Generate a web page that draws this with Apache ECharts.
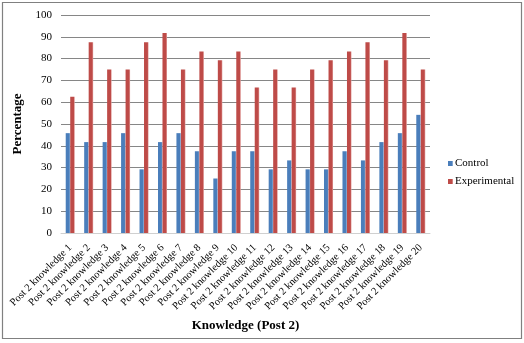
<!DOCTYPE html>
<html>
<head>
<meta charset="utf-8">
<script src="https://cdn.jsdelivr.net/npm/echarts@6/dist/echarts.min.js"></script>
<style>
  html, body { margin: 0; padding: 0; background: #fff; }
  #chart { width: 524px; height: 343px; }
</style>
</head>
<body>
<div id="chart"></div>
<script>
const categories = [
  'Post 2 knowledge 1', 'Post 2 knowledge 2', 'Post 2 knowledge 3', 'Post 2 knowledge 4',
  'Post 2 knowledge 5', 'Post 2 knowledge 6', 'Post 2 knowledge 7', 'Post 2 knowledge 8',
  'Post 2 knowledge 9', 'Post 2 knowledge 10', 'Post 2 knowledge 11', 'Post 2 knowledge 12',
  'Post 2 knowledge 13', 'Post 2 knowledge 14', 'Post 2 knowledge 15', 'Post 2 knowledge 16',
  'Post 2 knowledge 17', 'Post 2 knowledge 18', 'Post 2 knowledge 19', 'Post 2 knowledge 20'
];
const control = [45.8, 41.7, 41.7, 45.8, 29.2, 41.7, 45.8, 37.5, 25.0, 37.5,
                 37.5, 29.2, 33.3, 29.2, 29.2, 37.5, 33.3, 41.7, 45.8, 54.2];
const experimental = [62.5, 87.5, 75.0, 75.0, 87.5, 91.7, 75.0, 83.3, 79.2, 83.3,
                      66.7, 75.0, 66.7, 75.0, 79.2, 83.3, 87.5, 79.2, 91.7, 75.0];
const yTicks = [0, 10, 20, 30, 40, 50, 60, 70, 80, 90, 100];

const serif = '"Liberation Serif", "DejaVu Serif", serif';

function barFill(base, light) {
  return new echarts.graphic.LinearGradient(0, 0, 1, 0, [
    { offset: 0, color: base },
    { offset: 0.75, color: base },
    { offset: 1, color: light }
  ]);
}

const chart = echarts.init(document.getElementById('chart'), null, { renderer: 'canvas' });
chart.setOption({
  animation: false,
  backgroundColor: '#ffffff',
  graphic: [{
    type: 'rect',
    shape: { x: 2.5, y: 2.5, width: 519, height: 336 },
    style: { fill: 'none', stroke: '#808080', lineWidth: 1.2 },
    silent: true
  }],
  grid: { left: 61, right: 94, top: 15, bottom: 110 },
  legend: {
    orient: 'vertical',
    left: 443,
    top: 153,
    itemWidth: 5,
    itemHeight: 5,
    itemGap: 7,
    icon: 'rect',
    textStyle: { fontFamily: serif, fontSize: 11, color: '#000', padding: [0, 0, 0, -3] },
    data: ['Control', 'Experimental']
  },
  xAxis: {
    type: 'category',
    data: categories,
    axisLine: { show: true, lineStyle: { color: '#d0d0d0', width: 1 } },
    axisTick: { show: false },
    axisLabel: {
      interval: 0,
      rotate: 45,
      margin: 13,
      fontFamily: serif,
      fontSize: 10.5,
      color: '#000'
    },
    name: 'Knowledge (Post 2)',
    nameLocation: 'middle',
    nameGap: 84,
    nameTextStyle: { fontFamily: serif, fontSize: 13, fontWeight: 'bold', color: '#000' }
  },
  yAxis: {
    type: 'value',
    min: yTicks[0],
    max: yTicks[yTicks.length - 1],
    interval: yTicks[1] - yTicks[0],
    axisLine: { show: false },
    axisTick: { show: false },
    splitLine: { lineStyle: { color: '#868686', width: 1 } },
    axisLabel: { margin: 9, fontFamily: serif, fontSize: 11, color: '#000' },
    name: 'Percentage',
    nameLocation: 'middle',
    nameGap: 31,
    nameTextStyle: { fontFamily: serif, fontSize: 13, fontWeight: 'bold', color: '#000' }
  },
  series: [
    {
      name: 'Control',
      type: 'bar',
      data: control,
      barWidth: 4.5,
      barGap: '0%',
      itemStyle: { color: barFill('#4a7ebb', '#a6bfdf') }
    },
    {
      name: 'Experimental',
      type: 'bar',
      data: experimental,
      barWidth: 4.5,
      barGap: '0%',
      itemStyle: { color: barFill('#be4b48', '#e3a3a1') }
    }
  ]
});
</script>
</body>
</html>
